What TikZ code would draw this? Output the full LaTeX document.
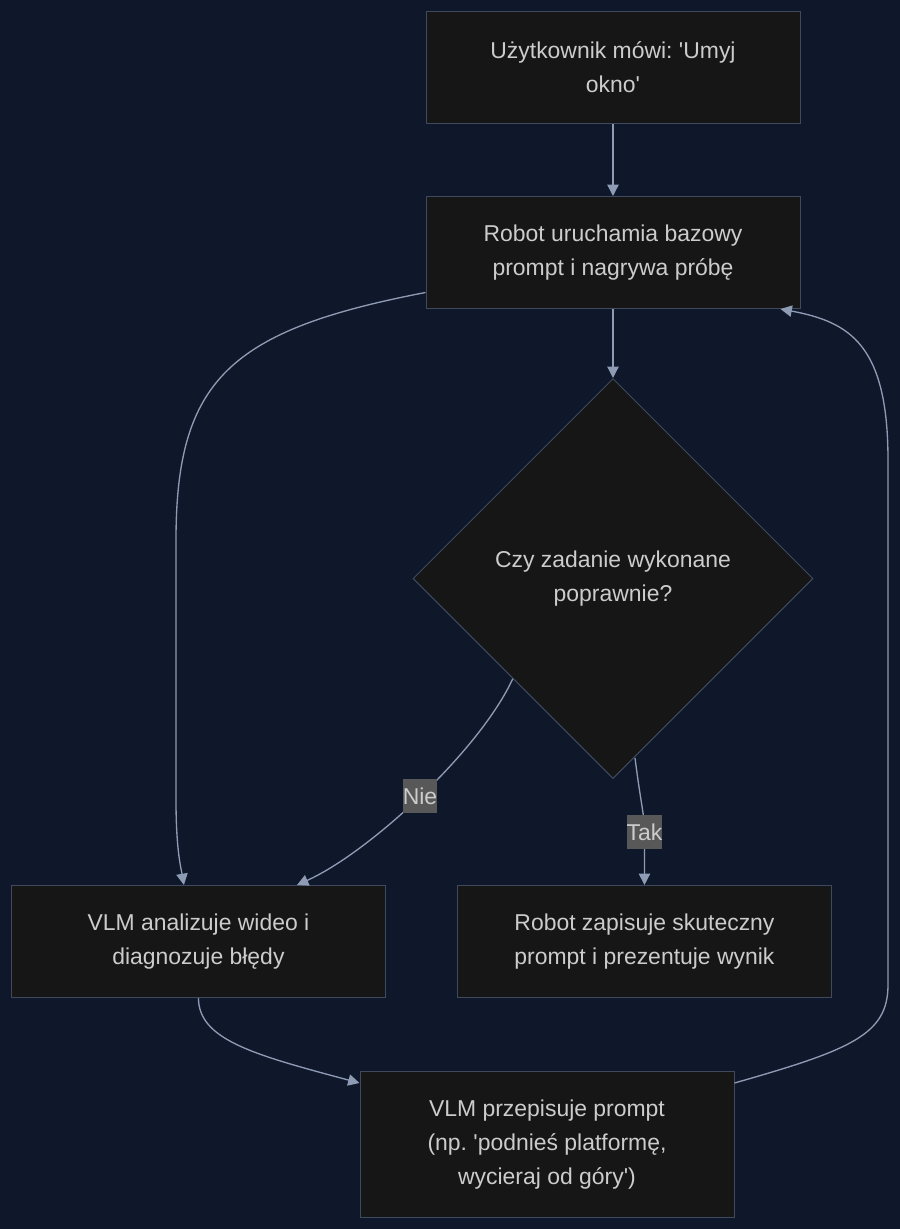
\documentclass[tikz,border=0pt]{standalone}
\usepackage{fontspec}
\setmainfont{Liberation Sans}
\usetikzlibrary{positioning,shapes.geometric,arrows.meta}

\definecolor{bgnavy}{HTML}{0F172A}
\definecolor{boxfill}{HTML}{161616}
\definecolor{boxline}{HTML}{3F4A5E}
\definecolor{edgeline}{HTML}{8E9BB4}
\definecolor{boxtext}{HTML}{CCCCCC}
\definecolor{lblfill}{HTML}{585858}

\newcommand{\flowfont}{\frenchspacing\fontsize{17.2}{25.5}\selectfont}
\newcommand{\sq}{\textquotesingle}

\tikzset{
  process/.style={draw=boxline, fill=boxfill, line width=0.75pt,
    minimum width=280.5pt, minimum height=84pt, inner sep=0pt,
    align=center, text=boxtext, font=\flowfont},
  decision/.style={diamond, aspect=1, draw=boxline, fill=boxfill,
    line width=0.75pt, minimum width=300pt, minimum height=300pt,
    inner sep=0pt, align=center, text=boxtext, font=\flowfont},
  flow/.style={draw=edgeline, line width=1pt,
    -{Triangle[length=8.5pt,width=8.5pt]}},
  answer/.style={fill=lblfill, text=boxtext, inner sep=0pt,
    minimum height=25.5pt, font=\flowfont},
}

\begin{document}
\begin{tikzpicture}[x=0.75pt, y=-0.75pt]

    \useasboundingbox (0,0) rectangle (900,1229);
    \fill[bgnavy] (0,0) rectangle (900,1229);

    % Define nodes
    \node[process] (say) at (613,67.5) {Użytkownik mówi: \sq Umyj\\okno\sq};
    \node[process, below=54pt of say]     (run) {Robot uruchamia bazowy\\prompt i nagrywa próbę};
    \node[decision, below=51.75pt of run] (check) {Czy zadanie wykonane\\poprawnie?};
    \node[process, below=79.5pt of check, xshift=23.6pt] (save) {Robot zapisuje skuteczny\\prompt i prezentuje wynik};
    \node[process, left=53.25pt of save]  (vlm) {VLM analizuje wideo i\\diagnozuje błędy};
    \node[process, minimum height=109.5pt, below=54.75pt of save, xshift=-73.1pt] (rewrite)
      {VLM przepisuje prompt\\(np. \sq podnieś platformę,\\wycieraj od góry\sq)};

    % Main flow
    \draw[flow] (say) -- (run);
    \draw[flow] (run) -- (check);

    % Decision
    \draw[flow] (check.south west) .. controls (480,750) and (370,852) ..
      node[answer, pos=0.5] {Nie} ([xshift=73.9pt]vlm.north);
    \draw[flow] ([xshift=16.5pt,yshift=15.75pt]check.south) .. controls (641,805) and (644.5,815) ..
      (644.5,832) node[answer] {Tak} -- (save.north);

    % Loop back
    \draw[flow] ([yshift=-30pt]run.west) .. controls (230,330) and (176,380) .. (176,540)
      -- (176,800) .. controls (176,850) and (181,868) .. ([xshift=-10.9pt]vlm.north);
    \draw[flow] (vlm.south) .. controls (198.5,1040) and (255,1055) .. ([yshift=-9pt]rewrite.north west);
    \draw[flow] ([yshift=-9pt]rewrite.north east) .. controls (850,1050) and (888,1035) .. (888,985)
      -- (888,460) .. controls (888,345) and (850,322) .. ([xshift=-15pt]run.south east);

\end{tikzpicture}
\end{document}
